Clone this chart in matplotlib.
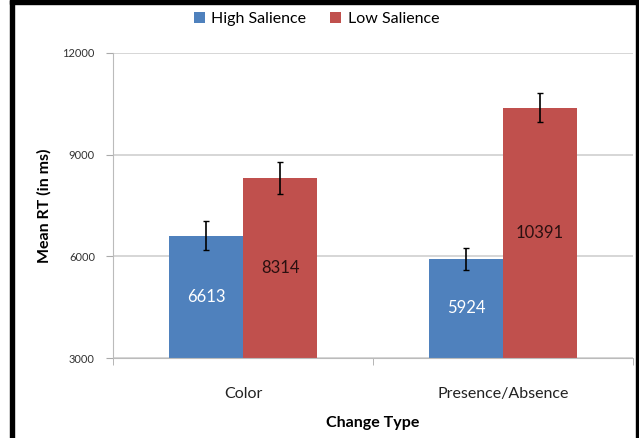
import matplotlib
matplotlib.use('Agg')
import matplotlib.pyplot as plt
import matplotlib.patches as patches
import numpy as np

categories = ['Color', 'Presence/Absence']
series_names = ['High Salience', 'Low Salience']
high_vals = [6613, 5924]
low_vals = [8314, 10391]
high_err = [440, 320]
low_err = [480, 440]
yticks = [3000, 6000, 9000, 12000]

plt.rcParams['font.family'] = ['Lato', 'DejaVu Sans']

blue = '#4F81BD'
red = '#C0504D'

fig = plt.figure(figsize=(6.39, 4.38), dpi=100)
ax = fig.add_axes([0.1768, 0.1826, 0.8138, 0.6964])

x = np.arange(len(categories))
w = 0.285
b1 = ax.bar(x - w/2, high_vals, w, color=blue, zorder=2,
            yerr=high_err, error_kw=dict(ecolor='black', elinewidth=1.2,
                                         capsize=2, capthick=1))
b2 = ax.bar(x + w/2, low_vals, w, color=red, zorder=2,
            yerr=low_err, error_kw=dict(ecolor='black', elinewidth=1.2,
                                        capsize=2, capthick=1))

# value labels in the middle of each bar
for i in range(len(categories)):
    ax.text(x[i] - w/2, (3000 + high_vals[i]) / 2, str(high_vals[i]),
            ha='center', va='center', color='white', fontsize=12, zorder=3)
    ax.text(x[i] + w/2, (3000 + low_vals[i]) / 2, str(low_vals[i]),
            ha='center', va='center', color='#2a1010', fontsize=12, zorder=3)

ax.set_xlim(-0.5, len(categories) - 0.5)
ax.set_ylim(3000, 12000)
ax.set_yticks(yticks)
ax.set_yticklabels([str(v) for v in yticks], fontsize=8, color='#333333')
ax.set_xticks(x)
ax.set_xticklabels(categories, fontsize=11.5, color='#222222')
ax.set_xticks([-0.5, 0.5, 1.5], minor=True)
ax.tick_params(axis='x', which='major', length=0, pad=21)
ax.tick_params(axis='x', which='minor', length=5, color='#aaaaaa')
ax.tick_params(axis='y', length=5, color='#aaaaaa', pad=8)
ax.yaxis.grid(True, color='#d0d0d0', linewidth=1.2, zorder=0)
ax.set_axisbelow(True)
for s in ['top', 'right']:
    ax.spines[s].set_visible(False)
ax.spines['left'].set_color('#bbbbbb')
ax.spines['bottom'].set_color('#bbbbbb')

ax.set_ylabel('Mean RT (in ms)', fontsize=11.5, fontweight='bold', labelpad=8)
ax.set_xlabel('Change Type', fontsize=11.5, fontweight='bold', labelpad=11)

fig.legend(handles=[b1, b2], labels=series_names, loc='center',
           bbox_to_anchor=(0.495, 0.957), ncol=2, frameon=False,
           fontsize=11.5, handlelength=0.7, handleheight=0.7,
           columnspacing=1.5, handletextpad=0.4)

# black frame around the figure
fig.patches.append(patches.Rectangle((10/639, 0), 4/639, 1, color='black',
                                     transform=fig.transFigure, figure=fig))
fig.patches.append(patches.Rectangle((10/639, 1 - 4/438), 1, 4/438,
                                     color='black', transform=fig.transFigure,
                                     figure=fig))
fig.patches.append(patches.Rectangle((636/639, 0), 3/639, 1, color='black',
                                     transform=fig.transFigure, figure=fig))

fig.savefig('out.png', dpi=100)
